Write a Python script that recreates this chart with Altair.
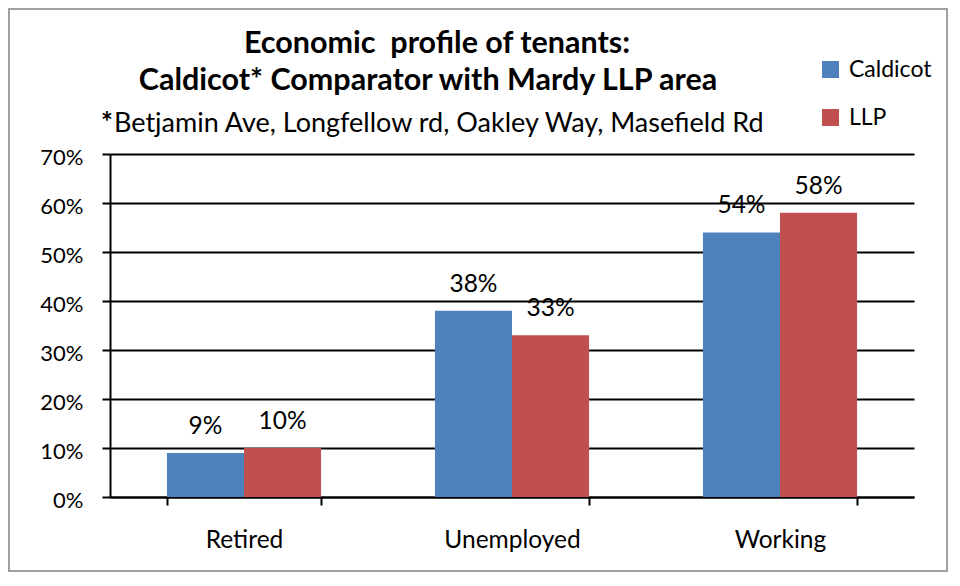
import altair as alt
import pandas as pd

categories = ["Retired", "Unemployed", "Working"]
caldicot = [0.09, 0.38, 0.54]
llp = [0.10, 0.33, 0.58]
series = ["Caldicot", "LLP"]
colors = ["#4F81BD", "#C0504D"]
y_ticks = [0, 0.1, 0.2, 0.3, 0.4, 0.5, 0.6, 0.7]
title_line1 = "Economic \u00a0profile of tenants:"
title_line2 = "Caldicot* Comparator with Mardy LLP area"
subtitle_mark = "*"
subtitle_text = "Betjamin Ave, Longfellow rd, Oakley Way, Masefield Rd"

rows = []
for i, c in enumerate(categories):
    rows.append({"category": c, "series": series[0], "value": caldicot[i]})
    rows.append({"category": c, "series": series[1], "value": llp[i]})
df = pd.DataFrame(rows)

FONT = "Lato"

x_enc = alt.X(
    "category:N",
    sort=categories,
    title=None,
    scale=alt.Scale(paddingInner=0.425, paddingOuter=0.2125),
    axis=alt.Axis(
        labelAngle=0,
        labelFontSize=24.5,
        labelColor="#000",
        labelPadding=23,
        tickSize=8,
        tickWidth=2,
        tickColor="#000",
        domainColor="#000",
        domainWidth=2,
        grid=False,
        tickBand="extent",
    ),
)
y_enc = alt.Y(
    "value:Q",
    title=None,
    scale=alt.Scale(domain=[0, 0.7], nice=False),
    axis=alt.Axis(
        values=y_ticks,
        format=".0%",
        labelFontSize=22,
        labelColor="#000",
        labelPadding=19,
        labelOffset=3,
        tickSize=8,
        tickWidth=2,
        tickColor="#000",
        domainColor="#000",
        domainWidth=2,
        gridColor="#000",
        gridWidth=2,
        gridOpacity=1,
    ),
)

base = alt.Chart(df)

bars = base.mark_bar().encode(
    x=x_enc,
    xOffset=alt.XOffset("series:N", sort=series, scale=alt.Scale(paddingInner=0, paddingOuter=0)),
    y=y_enc,
    color=alt.Color(
        "series:N",
        sort=series,
        scale=alt.Scale(domain=series, range=colors),
        legend=alt.Legend(
            title=None,
            orient="none",
            legendX=709,
            legendY=-96,
            symbolType="square",
            symbolSize=289,
            symbolStrokeWidth=0,
            labelFontSize=23,
            labelColor="#000",
            labelOffset=7,
            rowPadding=24,
            padding=0,
        ),
    ),
)

labels = base.mark_text(baseline="alphabetic", dy=-19, fontSize=24.5, color="#000", font=FONT).encode(
    x=alt.X("category:N", sort=categories),
    xOffset=alt.XOffset("series:N", sort=series),
    y="value:Q",
    text=alt.Text("value:Q", format=".0%"),
)

border = alt.Chart(alt.Data(values=[{"b": 1}])).mark_rect(
    fill=None, stroke="#A0A0A0", strokeWidth=2
).encode(
    x=alt.value(-101), x2=alt.value(837), y=alt.value(-145), y2=alt.value(417)
)

title_src = alt.Data(values=[{"t1": title_line1, "t2": title_line2, "s0": subtitle_mark, "s1": subtitle_text}])
title_base = alt.Chart(title_src)
t1 = title_base.mark_text(fontSize=30.5, fontWeight="bold", font=FONT, color="#000",
                          align="center", baseline="alphabetic").encode(
    text="t1:N", x=alt.value(327), y=alt.value(-101))
t2 = title_base.mark_text(fontSize=30.5, fontWeight="bold", font=FONT, color="#000",
                          align="center", baseline="alphabetic").encode(
    text="t2:N", x=alt.value(318), y=alt.value(-64))
s0 = title_base.mark_text(fontSize=28, fontWeight="bold", font=FONT, color="#000",
                          align="right", baseline="alphabetic").encode(
    text="s0:N", x=alt.value(3), y=alt.value(-22))
s1 = title_base.mark_text(fontSize=27, font=FONT, color="#000",
                          align="left", baseline="alphabetic").encode(
    text="s1:N", x=alt.value(4), y=alt.value(-22))

chart = alt.layer(border, bars, labels, t1, t2, s0, s1).properties(
    width=804,
    height=343,
    autosize=alt.AutoSizeParams(type="none"),
    padding={"left": 102, "top": 146, "right": 34, "bottom": 75},
).configure(font=FONT).configure_view(stroke=None)

chart.save("out.html", embed_options={"renderer": "svg", "actions": False})
